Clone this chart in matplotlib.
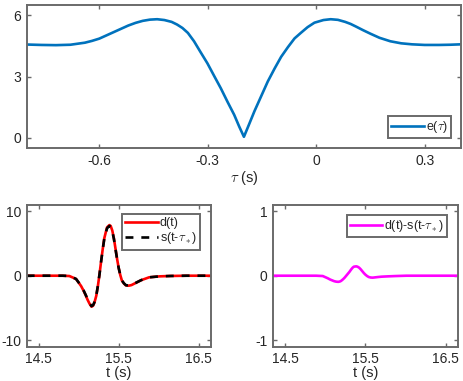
import matplotlib
matplotlib.use("Agg")
import matplotlib.pyplot as plt

plt.rcParams['font.family'] = ['Liberation Sans', 'DejaVu Sans']
plt.rcParams['axes.unicode_minus'] = False
plt.rcParams['mathtext.fontset'] = 'cm'
plt.rcParams['lines.solid_joinstyle'] = 'round'

# misfit curve e(tau)
tau = [-0.80, -0.76, -0.72, -0.68, -0.64, -0.62, -0.60, -0.58, -0.56, -0.54,
       -0.52, -0.50, -0.48, -0.46, -0.44, -0.42, -0.40, -0.385, -0.37, -0.355,
       -0.338, -0.32, -0.301, -0.282, -0.264, -0.245, -0.227, -0.213, -0.20, -0.186,
       -0.171, -0.152, -0.134, -0.115, -0.097, -0.078, -0.060, -0.042, -0.024, -0.005,
       0.02, 0.04, 0.06, 0.08, 0.095, 0.11, 0.13, 0.15, 0.175, 0.205,
       0.235, 0.265, 0.30, 0.34, 0.37, 0.40]
err = [4.57, 4.55, 4.54, 4.56, 4.66, 4.75, 4.86, 5.02, 5.18, 5.34,
       5.50, 5.63, 5.73, 5.79, 5.81, 5.77, 5.68, 5.55, 5.38, 5.14,
       4.73, 4.20, 3.65, 3.02, 2.43, 1.75, 1.13, 0.55, 0.05, 0.65,
       1.30, 2.05, 2.76, 3.40, 3.97, 4.45, 4.87, 5.15, 5.42, 5.64,
       5.77, 5.81, 5.78, 5.68, 5.58, 5.45, 5.27, 5.10, 4.90, 4.73,
       4.63, 4.58, 4.55, 4.55, 4.56, 4.58]

# waveforms
t = [14.35, 14.60, 14.80, 14.884, 14.967, 15.03, 15.06, 15.09, 15.11, 15.134,
     15.16, 15.18, 15.196, 15.22, 15.24, 15.26, 15.28, 15.30, 15.32, 15.34,
     15.355, 15.384, 15.40, 15.42, 15.44, 15.46, 15.48, 15.50, 15.52, 15.54,
     15.565, 15.59, 15.625, 15.66, 15.70, 15.78, 15.88, 16.01, 16.15, 16.35, 16.65]
d = [0, 0, 0, -0.05, -0.5, -1.6, -2.3, -3.1, -3.7, -4.3,
     -4.8, -4.65, -4.2, -3.1, -1.6, 0.2, 2.2, 4.1, 5.8, 6.8,
     7.5, 7.85, 7.7, 7.0, 5.8, 4.2, 2.6, 1.2, 0.1, -0.75,
     -1.2, -1.5, -1.55, -1.45, -1.2, -0.7, -0.25, -0.1, -0.04, 0, 0]
s = [0, 0, 0, -0.05, -0.5, -1.56, -2.24, -3.03, -3.62, -4.21,
     -4.71, -4.56, -4.12, -3.05, -1.57, 0.2, 2.17, 4.04, 5.71, 6.68,
     7.36, 7.71, 7.56, 6.88, 5.70, 4.13, 2.56, 1.19, 0.1, -0.73,
     -1.17, -1.47, -1.53, -1.43, -1.19, -0.69, -0.25, -0.1, -0.04, 0, 0]
resid = [0, 0, 0, 0, -0.005, -0.04, -0.06, -0.075, -0.085, -0.092,
         -0.095, -0.09, -0.08, -0.055, -0.03, 0.0, 0.03, 0.06, 0.095, 0.125,
         0.14, 0.145, 0.14, 0.125, 0.10, 0.07, 0.04, 0.015, -0.005, -0.02,
         -0.028, -0.03, -0.025, -0.02, -0.015, -0.01, -0.005, 0, 0, 0, 0]

spine_col = '#6a6a6a'
txt_col = '#262626'


def style(ax):
    for sp in ax.spines.values():
        sp.set_color(spine_col)
        sp.set_linewidth(1.4)
    ax.tick_params(direction='in', length=3, width=1, colors=spine_col,
                   labelcolor=txt_col, labelsize=10, top=True, right=True, pad=4)


def leg(ax, loc, anchor):
    lg = ax.legend(loc=loc, bbox_to_anchor=anchor, fontsize=9, fancybox=False,
                   framealpha=1, edgecolor=spine_col, borderaxespad=0,
                   borderpad=0.25, handlelength=2.6, handletextpad=0.15,
                   labelspacing=0.1)
    lg.get_frame().set_linewidth(1.4)
    for tx in lg.get_texts():
        tx.set_color(txt_col)


fig = plt.figure(figsize=(4.64, 3.81), dpi=100)

ax1 = fig.add_axes([0.0582, 0.6115, 0.935, 0.375])
ax1.plot(tau, err, color='#0072BD', lw=1.9, label=r'e($\tau$)')
ax1.set_xlim(-0.8, 0.4)
ax1.set_ylim(-0.5, 6.5)
ax1.set_xticks([-0.6, -0.3, 0, 0.3])
ax1.set_xticklabels(['-0.6', '-0.3', '0', '0.3'])
ax1.set_yticks([0, 3, 6])
ax1.set_xlabel(r'$\tau$ (s)', fontsize=10.5, color=txt_col, labelpad=1)
style(ax1)
leg(ax1, 'lower right', (0.977, 0.07))

ax2 = fig.add_axes([0.0575, 0.090, 0.3966, 0.3727])
ax2.plot(t, d, color='#ff0000', lw=1.9, label='d(t)')
ax2.plot(t, s, color='black', lw=1.9, dashes=(3, 3), label=r's(t-$\tau_*$)')
ax2.set_xlim(14.35, 16.65)
ax2.set_ylim(-11, 11)
ax2.set_xticks([14.5, 15.5, 16.5])
ax2.set_yticks([-10, 0, 10])
ax2.set_xlabel('t (s)', fontsize=10.5, color=txt_col, labelpad=0)
style(ax2)
leg(ax2, 'upper right', (0.942, 0.934))

ax3 = fig.add_axes([0.589, 0.090, 0.3974, 0.3727])
ax3.plot(t, resid, color='#ff00ff', lw=1.9, label=r'd(t)-s(t-$\tau_*$)')
ax3.set_xlim(14.35, 16.65)
ax3.set_ylim(-1.1, 1.1)
ax3.set_xticks([14.5, 15.5, 16.5])
ax3.set_yticks([-1, 0, 1])
ax3.set_xlabel('t (s)', fontsize=10.5, color=txt_col, labelpad=0)
style(ax3)
leg(ax3, 'upper right', (0.944, 0.927))

fig.savefig('out.png', dpi=100)
